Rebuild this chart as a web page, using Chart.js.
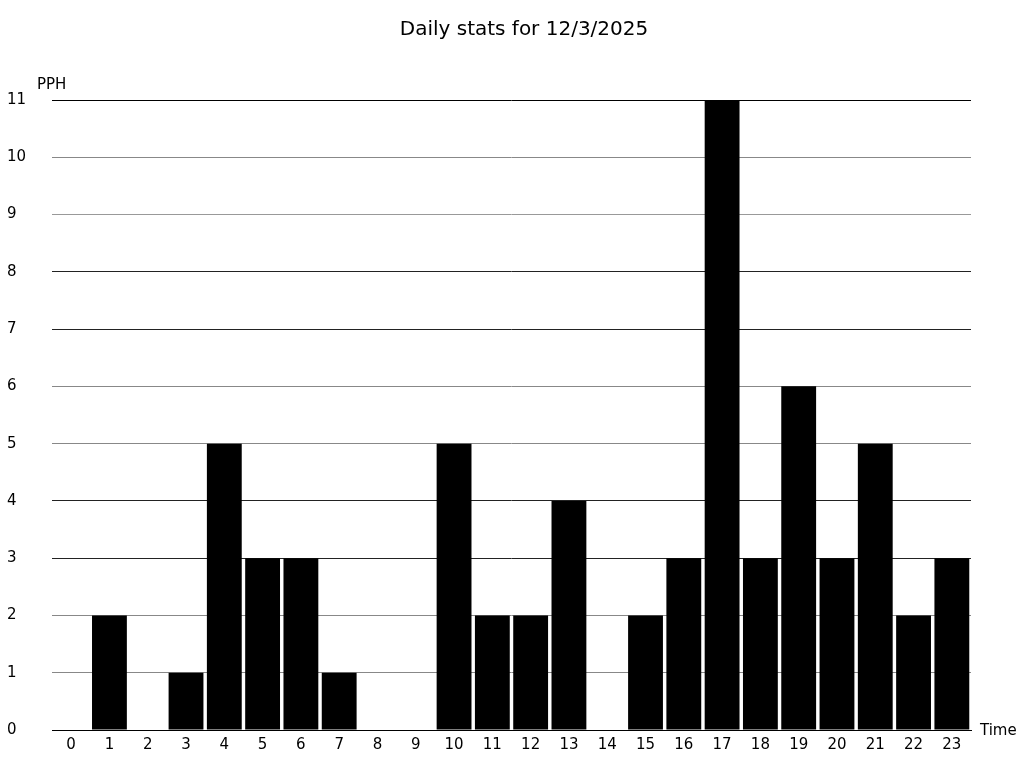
<!DOCTYPE html>
<html>
<head>
<meta charset="utf-8">
<title>Daily stats</title>
<script src="https://cdn.jsdelivr.net/npm/chart.js@4/dist/chart.umd.min.js"></script>
<style>
  html, body { margin: 0; padding: 0; background: #fff; }
  #wrap { width: 1024px; height: 768px; }
</style>
</head>
<body>
<div id="wrap"><canvas id="statsChart" width="1024" height="768"></canvas></div>
<script>
const hours = ['0', '1', '2', '3', '4', '5', '6', '7', '8', '9', '10', '11',
  '12', '13', '14', '15', '16', '17', '18', '19', '20', '21', '22', '23'];
const pph = [0, 2, 0, 1, 5, 3, 3, 1, 0, 0, 5, 2, 2, 4, 0, 2, 3, 11, 3, 6, 3, 5, 2, 3];
const yTicks = [0, 1, 2, 3, 4, 5, 6, 7, 8, 9, 10, 11];

const titleText = 'Daily stats for 12/3/2025';
const yLabel = 'PPH';
const xLabel = 'Time';

// grid lines in the picture alternate between crisp and soft
const gridColors = ['#000', '#888', '#888', '#222', '#222', '#888', '#888',
  '#222', '#222', '#999', '#888', '#000'];

Chart.defaults.font.family = '"DejaVu Sans", sans-serif';
Chart.defaults.font.size = 15;
Chart.defaults.color = '#000';

// title sits a bit right of the plot centre, plus the two axis names
const chartText = {
  id: 'chartText',
  afterDraw(chart) {
    const { ctx, chartArea } = chart;
    ctx.save();
    ctx.fillStyle = '#000';
    ctx.textBaseline = 'middle';
    ctx.font = '20px "DejaVu Sans", sans-serif';
    ctx.textAlign = 'center';
    ctx.fillText(titleText, 524, 30);
    ctx.font = '15px "DejaVu Sans", sans-serif';
    ctx.textAlign = 'left';
    ctx.fillText(yLabel, chartArea.left - 15, chartArea.top - 15);
    ctx.fillText(xLabel, chartArea.right + 9, chartArea.bottom + 1);
    ctx.restore();
  },
};

const ctx = document.getElementById('statsChart');
const statsChart = new Chart(ctx, {
  type: 'bar',
  data: {
    labels: hours,
    datasets: [
      {
        label: yLabel,
        data: pph,
        backgroundColor: '#000',
        borderWidth: 0,
        barPercentage: 0.91,
        categoryPercentage: 1,
      },
    ],
  },
  options: {
    responsive: false,
    animation: false,
    layout: { padding: { left: 7, right: 53, top: 100, bottom: 0 } },
    plugins: {
      legend: { display: false },
      tooltip: { enabled: false },
      title: { display: false },
    },
    scales: {
      x: {
        grid: { display: false, drawTicks: false },
        border: { display: true, color: '#000', width: 1 },
        ticks: { padding: 6, maxRotation: 0, autoSkip: false },
        afterFit(scale) { scale.height = 38; },
      },
      y: {
        min: 0,
        max: 11,
        afterBuildTicks(scale) {
          scale.ticks = yTicks.map((v) => ({ value: v }));
        },
        grid: {
          drawTicks: false,
          color: (c) => gridColors[c.index] || '#888',
          lineWidth: 1,
        },
        border: { display: false },
        ticks: { crossAlign: 'far', padding: 26 },
        afterFit(scale) { scale.width = 45; },
      },
    },
  },
  plugins: [chartText],
});
</script>
</body>
</html>
